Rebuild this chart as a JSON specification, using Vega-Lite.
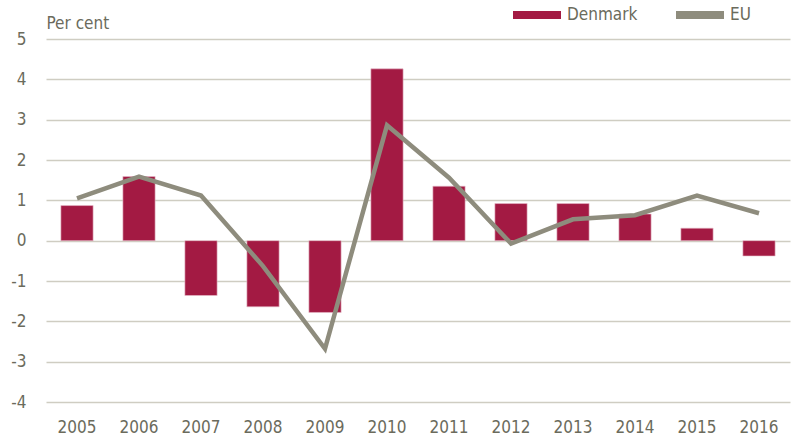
{
  "$schema": "https://vega.github.io/schema/vega-lite/v6.json",
  "width": 744,
  "height": 363,
  "autosize": "none",
  "padding": {"left": 46, "top": 39, "right": 6, "bottom": 37},
  "background": "white",
  "config": {
    "font": "DejaVu Sans Condensed, sans-serif",
    "view": {"stroke": null}
  },
  "data": {
    "values": [
      {"year": "2005", "Denmark": 0.87, "EU": 1.05},
      {"year": "2006", "Denmark": 1.59, "EU": 1.59},
      {"year": "2007", "Denmark": -1.36, "EU": 1.12},
      {"year": "2008", "Denmark": -1.64, "EU": -0.63},
      {"year": "2009", "Denmark": -1.78, "EU": -2.68},
      {"year": "2010", "Denmark": 4.26, "EU": 2.86},
      {"year": "2011", "Denmark": 1.35, "EU": 1.56},
      {"year": "2012", "Denmark": 0.92, "EU": -0.07},
      {"year": "2013", "Denmark": 0.92, "EU": 0.53},
      {"year": "2014", "Denmark": 0.66, "EU": 0.63},
      {"year": "2015", "Denmark": 0.31, "EU": 1.12},
      {"year": "2016", "Denmark": -0.38, "EU": 0.68}
    ]
  },
  "encoding": {
    "x": {
      "field": "year",
      "type": "ordinal",
      "scale": {"paddingInner": 0.48, "paddingOuter": 0.24},
      "axis": {
        "title": null,
        "labelAngle": 0,
        "labelFontSize": 17,
        "labelColor": "#6b6b5c",
        "labelPadding": 17,
        "ticks": false,
        "domain": false,
        "grid": false
      }
    }
  },
  "layer": [
    {
      "mark": {"type": "bar", "color": "#A31A43", "stroke": "#e8c0cc", "strokeWidth": 0.6},
      "encoding": {
        "y": {
          "field": "Denmark",
          "type": "quantitative",
          "scale": {"domain": [-4, 5], "nice": false},
          "axis": {
            "title": "Per cent",
            "titleAngle": 0,
            "titleAlign": "left",
            "titleBaseline": "alphabetic",
            "titleX": 0,
            "titleY": -11,
            "titleFontSize": 17,
            "titleFontWeight": "normal",
            "titleColor": "#6b6b5c",
            "values": [-4, -3, -2, -1, 0, 1, 2, 3, 4, 5],
            "labelExpr": "'' + datum.value",
            "labelFontSize": 17,
            "labelColor": "#6b6b5c",
            "labelPadding": 20,
            "ticks": false,
            "domain": false,
            "grid": true,
            "gridColor": "#cfcdc2",
            "gridWidth": 1.5
          }
        },
        "color": {
          "datum": "Denmark",
          "type": "nominal",
          "scale": {"domain": ["Denmark", "EU"], "range": ["#A31A43", "#8E8C7D"]},
          "legend": {
            "title": null,
            "orient": "none",
            "direction": "horizontal",
            "legendX": 467,
            "legendY": -48,
            "labelFontSize": 17,
            "labelColor": "#6b6b5c",
            "labelOffset": 6,
            "columnPadding": 38,
            "symbolSize": 2304,
            "symbolType": "M-1,-0.17H1V0.17H-1Z",
            "symbolStrokeWidth": 0,
            "encode": {
              "symbols": {
                "update": {
                  "shape": {"signal": "datum.value === 'EU' ? 'M-1,-0.09H1V0.09H-1Z' : 'M-1,-0.17H1V0.17H-1Z'"},
                  "fillOpacity": {"value": 1},
                  "strokeWidth": {"value": 0}
                }
              }
            }
          }
        }
      }
    },
    {
      "mark": {"type": "rule", "color": "#85847a", "strokeWidth": 2},
      "encoding": {"y": {"datum": 0, "type": "quantitative"}}
    },
    {
      "mark": {"type": "line", "color": "#8E8C7D", "strokeWidth": 4.5},
      "encoding": {
        "y": {"field": "EU", "type": "quantitative"},
        "color": {"datum": "EU", "type": "nominal"}
      }
    }
  ]
}
